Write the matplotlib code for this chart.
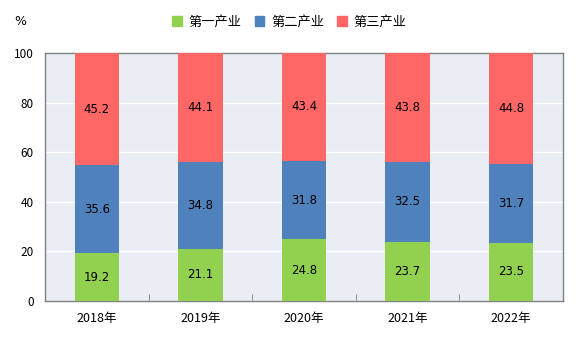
import numpy as np
import matplotlib.pyplot as plt
from matplotlib.patches import Patch

plt.rcParams['font.family'] = ['Noto Sans CJK SC', 'DejaVu Sans']

years = ['2018年', '2019年', '2020年', '2021年', '2022年']
primary = [19.2, 21.1, 24.8, 23.7, 23.5]
secondary = [35.6, 34.8, 31.8, 32.5, 31.7]
tertiary = [45.2, 44.1, 43.4, 43.8, 44.8]
series_names = ['第一产业', '第二产业', '第三产业']
colors = ['#92D050', '#4F81BD', '#FF6666']

fig = plt.figure(figsize=(5.82, 3.42), dpi=100)
ax = fig.add_axes([0.0773, 0.12, 0.89, 0.725])
ax.set_facecolor('#E9EEF5')

x = np.arange(len(years))
width = 0.43
bottom = np.zeros(len(years))
for vals, col in zip([primary, secondary, tertiary], colors):
    vals = np.array(vals)
    ax.bar(x, vals, width, bottom=bottom, color=col, zorder=3)
    for xi, b, v in zip(x, bottom, vals):
        ax.text(xi, b + v / 2, f'{v:.1f}', ha='center', va='center',
                fontsize=8.5, family='DejaVu Sans', zorder=4)
    bottom += vals

ax.set_xlim(-0.5, len(years) - 0.5)
ax.set_ylim(0, 100)
ax.set_yticks(range(0, 101, 20))
ax.yaxis.grid(True, color='white', linewidth=1, zorder=1)
ax.set_xticks(x)
ax.set_xticklabels(years, fontsize=9)
ax.set_xticks(np.arange(0.5, len(years) - 0.5), minor=True)
ax.tick_params(axis='x', which='major', length=0, pad=8)
ax.tick_params(axis='x', which='minor', length=5, direction='in', color='#808080')
ax.tick_params(axis='y', length=0, labelsize=8.5, pad=8)
for s in ax.spines.values():
    s.set_color('#808080')
    s.set_linewidth(1)

fig.text(0.035, 0.936, '%', fontsize=9, ha='center', va='center', family='DejaVu Sans')
handles = [Patch(color=c) for c in colors]
fig.legend(handles, series_names, loc='center', bbox_to_anchor=(0.497, 0.936),
           ncol=3, frameon=False, fontsize=9.5, handlelength=0.75, handleheight=0.75,
           handletextpad=0.5, columnspacing=1.0, borderpad=0)

fig.savefig('out.png', dpi=100)
